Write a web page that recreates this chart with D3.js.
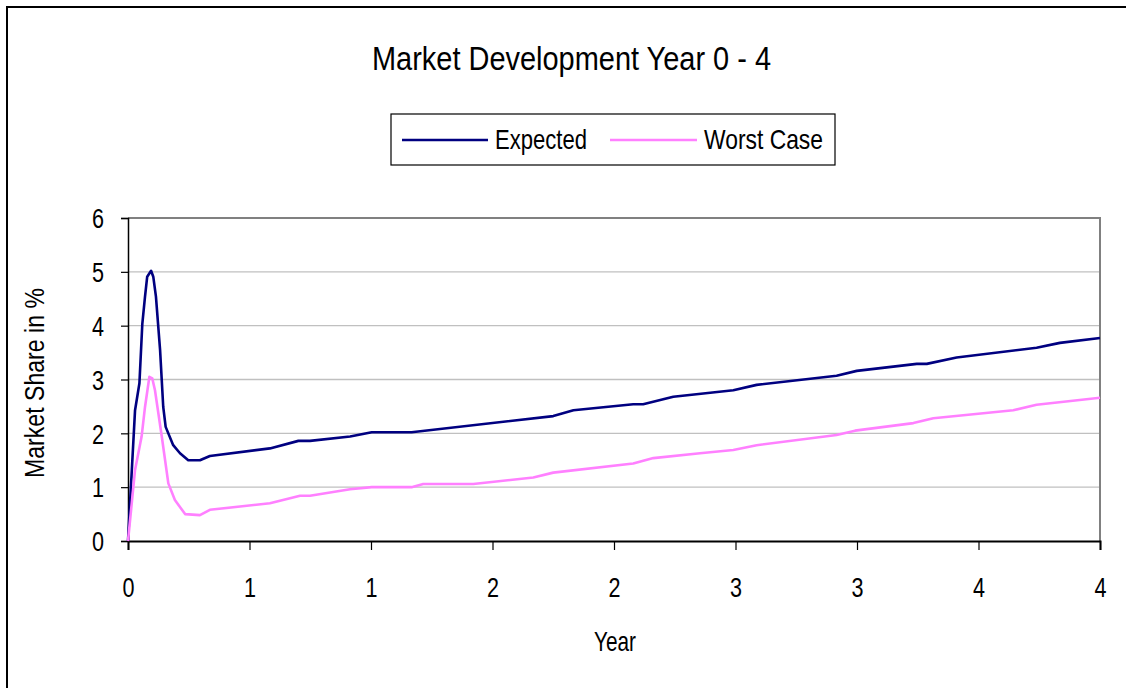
<!DOCTYPE html>
<html><head><meta charset="utf-8">
<script src="https://cdn.jsdelivr.net/npm/d3@7"></script>
<style>
body{margin:0;background:#fff;}
text{font-family:"Liberation Sans Narrow","Arial Narrow","Liberation Sans",sans-serif;fill:#000;}
</style></head>
<body><svg id="c" width="1126" height="688"></svg>
<script>
const title = "Market Development Year 0 - 4";
const seriesNames = ["Expected", "Worst Case"];
const seriesColors = ["#000080", "#ff80ff"];
const expectedX = [0,0.029,0.047,0.059,0.070,0.079,0.095,0.104,0.115,0.132,0.145,0.155,0.186,0.214,0.248,0.296,0.337,0.584,0.701,0.749,0.914,1.003,1.167,1.750,1.833,2.079,2.12,2.244,2.491,2.587,2.916,2.999,3.246,3.287,3.410,3.739,3.835,4.0];
const expectedY = [0,2.43,2.93,4.04,4.54,4.91,5.02,4.91,4.54,3.55,2.49,2.12,1.78,1.63,1.50,1.50,1.58,1.72,1.86,1.86,1.94,2.02,2.02,2.32,2.43,2.54,2.54,2.68,2.80,2.90,3.07,3.16,3.29,3.29,3.41,3.59,3.68,3.77];
const worstX = [0,0.029,0.056,0.070,0.088,0.100,0.111,0.139,0.166,0.193,0.235,0.296,0.337,0.584,0.708,0.749,0.914,1.003,1.167,1.215,1.421,1.668,1.750,2.079,2.162,2.354,2.491,2.587,2.916,2.992,3.232,3.314,3.643,3.739,4.0];
const worstY = [0,1.32,1.94,2.49,3.05,3.02,2.80,1.94,1.07,0.76,0.50,0.48,0.58,0.70,0.84,0.84,0.96,1.00,1.00,1.06,1.06,1.18,1.27,1.44,1.54,1.63,1.69,1.78,1.97,2.05,2.19,2.28,2.43,2.53,2.66];
const xTicks = [0,0.5,1,1.5,2,2.5,3,3.5,4];
const xTickLabels = ["0","1","1","2","2","3","3","4","4"];
const yTicks = [0,1,2,3,4,5,6];
const xTitle = "Year";
const yTitle = "Market Share in %";

const svg = d3.select("#c");
// condense text horizontally (narrow font look)
function narrow(sel, k){
  sel.each(function(){
    const w = this.getComputedTextLength();
    d3.select(this).attr("textLength", w*k).attr("lengthAdjust","spacingAndGlyphs");
  });
}

// outer frame
svg.append("rect").attr("x",7).attr("y",7).attr("width",1130).attr("height",700)
  .attr("fill","none").attr("stroke","#000").attr("stroke-width",2);

const L=128, R=1100, T=218, B=541;
const x = d3.scaleLinear().domain([0,4]).range([L,R]);
const y = d3.scaleLinear().domain([0,6]).range([B,T]);

// gridlines
svg.append("g").selectAll("line").data(yTicks.filter(d=>d>0&&d<6)).join("line")
  .attr("x1",L).attr("x2",R).attr("y1",d=>y(d)).attr("y2",d=>y(d))
  .attr("stroke","#c0c0c0").attr("stroke-width",1.3);
// plot border (top/right grey)
svg.append("path").attr("d",`M${L},${T}H${R}V${B}`).attr("fill","none").attr("stroke","#808080").attr("stroke-width",2);

// axes
const yAxis = d3.axisLeft(y).tickValues(yTicks).tickSize(7).tickFormat(d3.format("d"));
const gy = svg.append("g").attr("transform",`translate(${L},0)`).call(yAxis);
gy.select(".domain").attr("stroke","#000").attr("stroke-width",1.5);
gy.selectAll(".tick line").attr("stroke","#000").attr("stroke-width",1.2);
gy.selectAll(".tick text").attr("font-size",27).attr("dy","0.36em").attr("x",-24);
narrow(gy.selectAll(".tick text"), 0.8);

const xAxis = d3.axisBottom(x).tickValues(xTicks).tickSize(9).tickFormat((d,i)=>xTickLabels[i]);
const gx = svg.append("g").attr("transform",`translate(0,${B})`).call(xAxis);
gx.select(".domain").attr("stroke","#000").attr("stroke-width",2);
gx.selectAll(".tick line").attr("stroke","#000").attr("stroke-width",1.2);
gx.selectAll(".tick text").attr("font-size",27).attr("dy",null).attr("y",56);
narrow(gx.selectAll(".tick text"), 0.8);

// lines
const line = d3.line().x(d=>x(d[0])).y(d=>y(d[1]));
const series = [d3.zip(expectedX, expectedY), d3.zip(worstX, worstY)];
series.forEach((s,i)=>{
  svg.append("path").datum(s).attr("d",line).attr("fill","none")
    .attr("stroke",seriesColors[i]).attr("stroke-width",2.6).attr("stroke-linejoin","round");
});

// title
svg.append("text").attr("x",372).attr("y",70).attr("font-size",34)
  .attr("textLength",399).attr("lengthAdjust","spacingAndGlyphs").text(title);

// legend
svg.append("rect").attr("x",391).attr("y",114).attr("width",444).attr("height",51)
  .attr("fill","#fff").attr("stroke","#000").attr("stroke-width",1.2);
const legItems = [{x1:402,x2:488,tx:495,w:92},{x1:610,x2:697,tx:704,w:119}];
legItems.forEach((p,i)=>{
  svg.append("line").attr("x1",p.x1).attr("x2",p.x2).attr("y1",140).attr("y2",140)
    .attr("stroke",seriesColors[i]).attr("stroke-width",2.6);
  svg.append("text").attr("x",p.tx).attr("y",149).attr("font-size",28)
    .attr("textLength",p.w).attr("lengthAdjust","spacingAndGlyphs").text(seriesNames[i]);
});

// axis titles
svg.append("text").attr("x",594).attr("y",651).attr("font-size",28)
  .attr("textLength",42).attr("lengthAdjust","spacingAndGlyphs").text(xTitle);
svg.append("text").attr("transform","translate(44,478) rotate(-90)").attr("font-size",27)
  .attr("textLength",190).attr("lengthAdjust","spacingAndGlyphs").text(yTitle);
</script></body></html>
